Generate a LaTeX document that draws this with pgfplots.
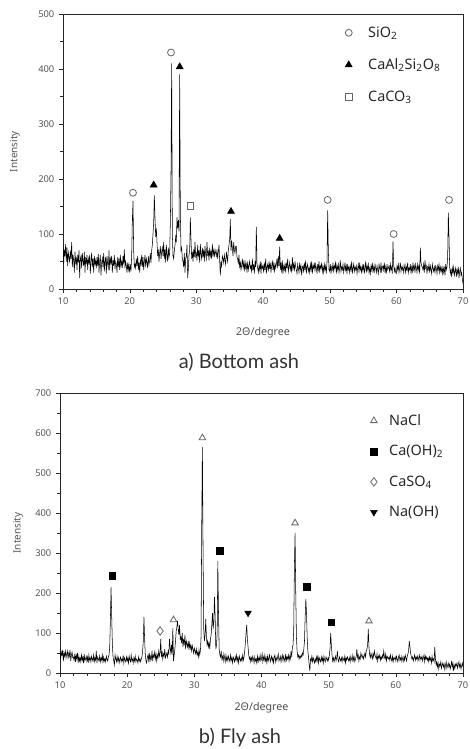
\documentclass[border=0pt]{standalone}
\usepackage{fontspec}
\setmainfont{Noto Sans}
\newfontfamily\capfont{Lato}
\usepackage{pgfplots}
\pgfplotsset{compat=1.18}

\definecolor{tick}{HTML}{555555}
\definecolor{mk}{HTML}{666666}

\pgfplotsset{
  xrd/.style={
    scale only axis,
    xmin=10, xmax=70,
    xtick={10,20,...,70},
    minor x tick num=4,
    minor y tick num=1,
    tick align=outside,
    xtick pos=bottom, ytick pos=left,
    axis line style={black!85},
    tick style={black!85},
    major tick length=3pt, minor tick length=2pt,
    tick label style={font=\fontsize{7}{8}\selectfont, text=tick},
    /pgf/number format/assume math mode=true,
    ylabel={Intensity},
    xlabel={2Θ/degree},
    label style={font=\fontsize{7.5}{8}\selectfont, text=tick},
    xlabel style={font=\fontsize{8}{9}\selectfont\bfseries, text=black!70},
    legend cell align=left,
    legend style={draw=none, fill=none, font=\fontsize{10.8}{12}\selectfont,
      text=black!85},
  },
  xrdline/.style={black, line width=0.4pt},
}

\begin{document}
\begin{tikzpicture}
\path[use as bounding box] (0,0) rectangle (351.75pt,561.75pt);

% a) Bottom ash
\begin{axis}[xrd,
  at={(47.25pt,345pt)}, anchor=south west,
  width=300pt, height=206.25pt,
  ymin=0, ymax=500, ytick={0,100,...,500},
  ylabel style={at={(axis description cs:-0.12,0.5)}, anchor=center},
  xlabel style={at={(axis description cs:0.5,-0.16)}, anchor=center},
  legend style={at={(axis description cs:0.695,0.975)}, anchor=north west,
    row sep=10.5pt, /tikz/every odd column/.append style={column sep=10pt}},
]
\addplot[xrdline, forget plot] table[x expr=10+0.1*\coordindex, y=y, row sep=\\] {
y\\
80\\45\\72\\60\\82\\50\\75\\42\\66\\58\\
48\\70\\55\\85\\40\\62\\52\\30\\68\\45\\
58\\35\\62\\48\\70\\20\\55\\60\\38\\65\\
50\\42\\68\\30\\58\\45\\62\\35\\55\\48\\
62\\28\\50\\66\\40\\55\\30\\60\\45\\52\\
38\\58\\42\\64\\30\\50\\62\\25\\48\\56\\
40\\65\\32\\50\\58\\28\\60\\45\\38\\70\\
35\\55\\48\\60\\30\\52\\42\\62\\36\\50\\
45\\30\\58\\40\\55\\35\\62\\42\\50\\38\\
60\\45\\72\\38\\50\\42\\30\\48\\35\\45\\
30\\42\\35\\60\\125\\160\\70\\40\\45\\38\\
55\\42\\60\\35\\48\\30\\52\\45\\62\\40\\
58\\35\\50\\62\\40\\55\\48\\38\\60\\45\\
52\\65\\48\\70\\80\\100\\120\\170\\130\\95\\
110\\85\\60\\72\\50\\65\\78\\55\\68\\75\\
60\\85\\55\\72\\48\\80\\62\\50\\75\\58\\
65\\120\\210\\410\\100\\60\\55\\70\\80\\95\\
85\\130\\110\\125\\105\\390\\140\\70\\75\\55\\
50\\40\\65\\30\\55\\60\\80\\20\\35\\62\\
70\\130\\90\\55\\68\\50\\72\\58\\85\\60\\
65\\52\\80\\58\\70\\48\\82\\62\\55\\75\\
58\\72\\50\\78\\62\\55\\85\\60\\70\\52\\
75\\60\\68\\55\\82\\62\\70\\58\\72\\65\\
60\\72\\55\\68\\80\\52\\25\\48\\42\\60\\
55\\48\\62\\52\\45\\68\\58\\50\\72\\80\\
90\\127\\70\\88\\75\\60\\85\\72\\65\\78\\
78\\58\\55\\45\\62\\38\\50\\35\\42\\55\\
40\\48\\32\\52\\38\\45\\30\\50\\35\\42\\
50\\38\\42\\30\\55\\35\\45\\28\\48\\40\\
113\\45\\38\\30\\42\\35\\50\\28\\45\\38\\
42\\30\\48\\35\\55\\28\\40\\45\\32\\50\\
36\\48\\30\\42\\52\\35\\45\\30\\48\\38\\
45\\55\\38\\60\\42\\77\\35\\48\\30\\52\\
28\\42\\35\\45\\30\\48\\38\\55\\32\\40\\
48\\35\\42\\30\\58\\38\\45\\32\\50\\40\\
35\\28\\45\\38\\30\\48\\35\\42\\25\\40\\
42\\30\\48\\35\\52\\28\\40\\45\\32\\38\\
30\\45\\35\\50\\28\\42\\38\\48\\32\\45\\
38\\28\\45\\35\\50\\30\\42\\38\\48\\32\\
40\\30\\45\\35\\42\\28\\48\\143\\70\\35\\
32\\45\\28\\40\\35\\48\\30\\42\\38\\50\\
28\\42\\35\\45\\30\\38\\52\\32\\40\\35\\
45\\30\\38\\48\\32\\42\\28\\45\\35\\40\\
30\\42\\35\\50\\28\\38\\45\\32\\40\\35\\
42\\28\\38\\45\\30\\48\\35\\40\\28\\42\\
35\\45\\28\\38\\50\\30\\42\\35\\45\\30\\
38\\28\\42\\35\\48\\30\\40\\32\\45\\38\\
30\\42\\35\\28\\45\\38\\32\\48\\30\\40\\
42\\35\\48\\30\\40\\28\\45\\35\\38\\42\\
30\\45\\35\\40\\28\\86\\45\\32\\38\\30\\
28\\42\\35\\45\\30\\38\\48\\32\\40\\35\\
42\\30\\38\\45\\28\\40\\35\\48\\30\\38\\
35\\45\\28\\40\\32\\48\\35\\42\\30\\45\\
38\\30\\45\\35\\42\\28\\75\\48\\42\\40\\
35\\45\\30\\52\\38\\42\\28\\40\\35\\45\\
30\\42\\35\\28\\45\\38\\32\\40\\30\\42\\
38\\28\\42\\35\\45\\30\\40\\32\\38\\28\\
42\\30\\38\\25\\45\\35\\40\\60\\139\\95\\
40\\28\\35\\22\\38\\30\\40\\25\\32\\38\\
22\\35\\28\\40\\20\\32\\38\\25\\30\\18\\
10\\
};
\addplot[only marks, mark=o, mark size=2.6pt, mark options={draw=mk, fill=white, line width=0.6pt}]
  coordinates {(20.5,175) (26.2,430) (49.7,162) (59.6,100) (67.9,162)};
\addlegendentry{SiO\textsubscript{2}}
\addplot[only marks, mark=triangle*, mark size=3pt, mark options={black}]
  coordinates {(23.6,189) (27.5,404) (35.2,141) (42.5,92)};
\addlegendentry{CaAl\textsubscript{2}Si\textsubscript{2}O\textsubscript{8}}
\addplot[only marks, mark=square, mark size=2.5pt, mark options={draw=mk, line width=0.6pt}]
  coordinates {(29.1,151)};
\addlegendentry{CaCO\textsubscript{3}}
\end{axis}

% b) Fly ash
\begin{axis}[xrd,
  at={(45pt,57pt)}, anchor=south west,
  width=302.25pt, height=210pt,
  ymin=0, ymax=700, ytick={0,100,...,700},
  ylabel style={at={(axis description cs:-0.104,0.5)}, anchor=center},
  xlabel style={at={(axis description cs:0.5,-0.125)}, anchor=center},
  legend style={at={(axis description cs:0.76,0.944)}, anchor=north west,
    row sep=9.5pt, /tikz/every odd column/.append style={column sep=7pt}},
]
\addplot[xrdline, forget plot] table[x expr=10+0.1*\coordindex, y=y, row sep=\\] {
y\\
60\\35\\52\\45\\58\\30\\50\\42\\55\\38\\
48\\55\\35\\50\\42\\58\\30\\45\\52\\38\\
40\\32\\48\\28\\45\\35\\50\\25\\42\\30\\
38\\28\\45\\32\\40\\25\\48\\30\\35\\42\\
30\\40\\25\\45\\32\\38\\28\\42\\35\\30\\
45\\28\\38\\32\\55\\25\\40\\35\\30\\42\\
28\\38\\32\\45\\25\\40\\30\\35\\28\\42\\
35\\30\\40\\45\\65\\130\\215\\140\\70\\40\\
30\\20\\45\\35\\28\\42\\30\\38\\25\\35\\
40\\28\\35\\30\\45\\25\\38\\32\\28\\40\\
30\\38\\25\\42\\32\\28\\45\\30\\35\\25\\
38\\30\\42\\28\\35\\32\\25\\40\\30\\35\\
28\\35\\40\\55\\80\\140\\85\\45\\30\\25\\
38\\45\\32\\50\\28\\42\\35\\55\\30\\45\\
40\\52\\35\\48\\30\\45\\38\\55\\42\\50\\
85\\40\\55\\35\\48\\42\\60\\38\\45\\50\\
40\\55\\48\\85\\62\\50\\70\\45\\112\\30\\
45\\60\\80\\105\\115\\130\\110\\95\\120\\85\\
90\\75\\100\\65\\85\\70\\95\\60\\80\\72\\
65\\80\\58\\75\\62\\70\\55\\68\\60\\50\\
62\\55\\48\\60\\45\\52\\40\\58\\45\\55\\
90\\370\\565\\300\\110\\80\\95\\135\\90\\70\\
80\\65\\75\\60\\85\\95\\120\\150\\110\\130\\
190\\140\\60\\70\\100\\280\\150\\60\\45\\40\\
55\\35\\42\\30\\48\\38\\28\\45\\32\\40\\
30\\42\\35\\28\\45\\32\\38\\25\\40\\35\\
28\\40\\32\\45\\30\\38\\25\\42\\35\\30\\
38\\30\\45\\32\\40\\55\\75\\100\\120\\85\\
65\\45\\35\\40\\28\\38\\30\\42\\35\\25\\
40\\30\\35\\25\\42\\28\\38\\32\\45\\30\\
35\\48\\28\\40\\32\\45\\30\\38\\25\\42\\
30\\38\\45\\28\\35\\42\\30\\38\\25\\40\\
45\\28\\38\\32\\40\\48\\30\\35\\42\\28\\
38\\45\\30\\42\\35\\28\\48\\32\\40\\35\\
45\\30\\42\\35\\55\\40\\65\\70\\110\\270\\
350\\200\\90\\55\\40\\45\\35\\42\\38\\45\\
40\\50\\45\\60\\80\\140\\185\\150\\90\\55\\
40\\20\\5\\35\\30\\42\\28\\38\\32\\25\\
35\\28\\40\\30\\45\\25\\38\\32\\28\\40\\
30\\38\\25\\42\\32\\28\\40\\35\\30\\38\\
32\\45\\60\\100\\70\\45\\30\\38\\28\\35\\
42\\30\\38\\55\\32\\28\\40\\35\\30\\38\\
28\\40\\35\\30\\42\\25\\38\\32\\40\\35\\
30\\38\\28\\42\\35\\30\\45\\32\\40\\28\\
35\\42\\60\\38\\45\\30\\40\\35\\50\\42\\
38\\45\\35\\42\\50\\40\\55\\60\\70\\110\\
65\\45\\38\\50\\42\\35\\48\\40\\55\\45\\
40\\35\\48\\30\\42\\38\\45\\32\\40\\35\\
45\\38\\55\\40\\35\\48\\30\\42\\38\\35\\
40\\32\\45\\35\\30\\42\\28\\38\\35\\40\\
30\\42\\35\\28\\40\\45\\32\\38\\30\\42\\
35\\28\\40\\32\\45\\38\\30\\42\\48\\55\\
80\\65\\50\\42\\35\\40\\30\\38\\45\\32\\
40\\35\\42\\30\\38\\45\\32\\40\\35\\42\\
30\\38\\45\\28\\42\\35\\40\\32\\38\\28\\
40\\32\\38\\25\\42\\30\\35\\28\\65\\35\\
20\\28\\15\\25\\10\\22\\18\\28\\12\\20\\
25\\15\\22\\8\\20\\28\\12\\18\\25\\15\\
22\\10\\18\\28\\15\\25\\5\\20\\12\\22\\
18\\25\\12\\20\\28\\15\\22\\10\\18\\25\\
15\\
};
\addplot[only marks, mark=triangle, mark size=2.8pt, mark options={draw=mk, fill=white, line width=0.6pt}]
  coordinates {(26.9,133) (31.2,588) (45.0,375) (56.0,130)};
\addlegendentry{NaCl}
\addplot[only marks, mark=square*, mark size=2.5pt, mark options={black}]
  coordinates {(17.8,243) (33.8,305) (46.7,215) (50.4,127)};
\addlegendentry{Ca(OH)\textsubscript{2}}
\addplot[only marks, mark=diamond, mark size=3.2pt, mark options={draw=mk, line width=0.6pt}]
  coordinates {(24.9,105)};
\addlegendentry{CaSO\textsubscript{4}}
\addplot[only marks, mark=triangle*, mark size=2.8pt, mark options={black, rotate=180}]
  coordinates {(38.0,150)};
\addlegendentry{Na(OH)}
\end{axis}

\node[font=\capfont\fontsize{15}{17}\selectfont, text=black!80] at (179.25pt,290.25pt) {a) Bottom ash};
\node[font=\capfont\fontsize{15}{17}\selectfont, text=black!80] at (180pt,8.5pt) {b) Fly ash};
\end{tikzpicture}
\end{document}
